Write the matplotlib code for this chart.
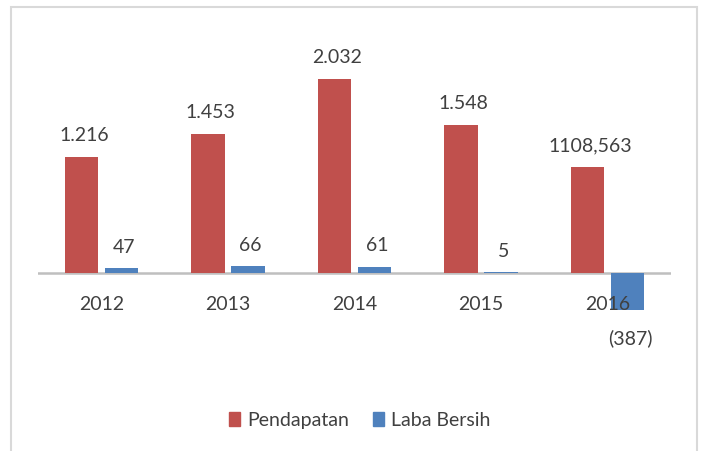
import numpy as np
import matplotlib.pyplot as plt
from matplotlib.patches import Rectangle, Patch

years = ["2012", "2013", "2014", "2015", "2016"]
pendapatan = [1216, 1453, 2032, 1548, 1108.563]
laba_bersih = [47, 66, 61, 5, -387]
pendapatan_labels = ["1.216", "1.453", "2.032", "1.548", "1108,563"]
laba_labels = ["47", "66", "61", "5", "(387)"]

red = "#c0504d"
blue = "#4f81bd"
text_col = "#404040"

plt.rcParams["font.family"] = ["Lato", "DejaVu Sans"]

fig = plt.figure(figsize=(7.02, 4.52), dpi=100)
ax = fig.add_axes([38 / 702, 1 - 331 / 452, 633 / 702, 272 / 452])

x = np.arange(len(years))
w = 0.265
off = 0.158

red_bars = ax.bar(x - off, pendapatan, w, color=red, zorder=3)
blue_bars = ax.bar(x + off, laba_bersih, w, color=blue, zorder=3)
ax.axhline(0, color="#bfbfbf", lw=1.8, zorder=2)

for rect, lab in zip(red_bars, pendapatan_labels):
    ax.annotate(lab, (rect.get_x() + rect.get_width() / 2 + 0.02, rect.get_height()),
                xytext=(0, 16), textcoords="offset points", ha="center", va="center",
                fontsize=14, color=text_col)

for rect, v, lab in zip(blue_bars, laba_bersih, laba_labels):
    dy = 16 if v >= 0 else -19.5
    ax.annotate(lab, (rect.get_x() + rect.get_width() / 2 + 0.02, v),
                xytext=(0, dy), textcoords="offset points", ha="center", va="center",
                fontsize=14, color=text_col)

ax.set_xlim(-0.5, 4.5)
ax.set_ylim(-600, 2250)
ax.spines["bottom"].set_position(("data", 0))
ax.set_xticks(x)
ax.set_xticklabels(years, fontsize=14, color=text_col)
ax.tick_params(axis="x", length=0, pad=16)
ax.set_yticks([])
for s in ax.spines.values():
    s.set_visible(False)
# year labels sit on top of the negative bar
ax.xaxis.set_zorder(5)

handles = [Patch(color=red, label="Pendapatan"), Patch(color=blue, label="Laba Bersih")]
leg = fig.legend(handles=handles, loc="center", bbox_to_anchor=(360 / 702, 1 - 421 / 452),
                 ncol=2, frameon=False, fontsize=14, handlelength=0.55, handleheight=0.7,
                 handletextpad=0.4, columnspacing=1.2)
for t in leg.get_texts():
    t.set_color(text_col)

# light chart border
fig.patches.append(Rectangle((11 / 702, -0.05), 686 / 702, 1.05 - 8 / 452,
                             transform=fig.transFigure, fill=False,
                             edgecolor="#d9d9d9", lw=1.5))

fig.savefig("out.png", dpi=100)
